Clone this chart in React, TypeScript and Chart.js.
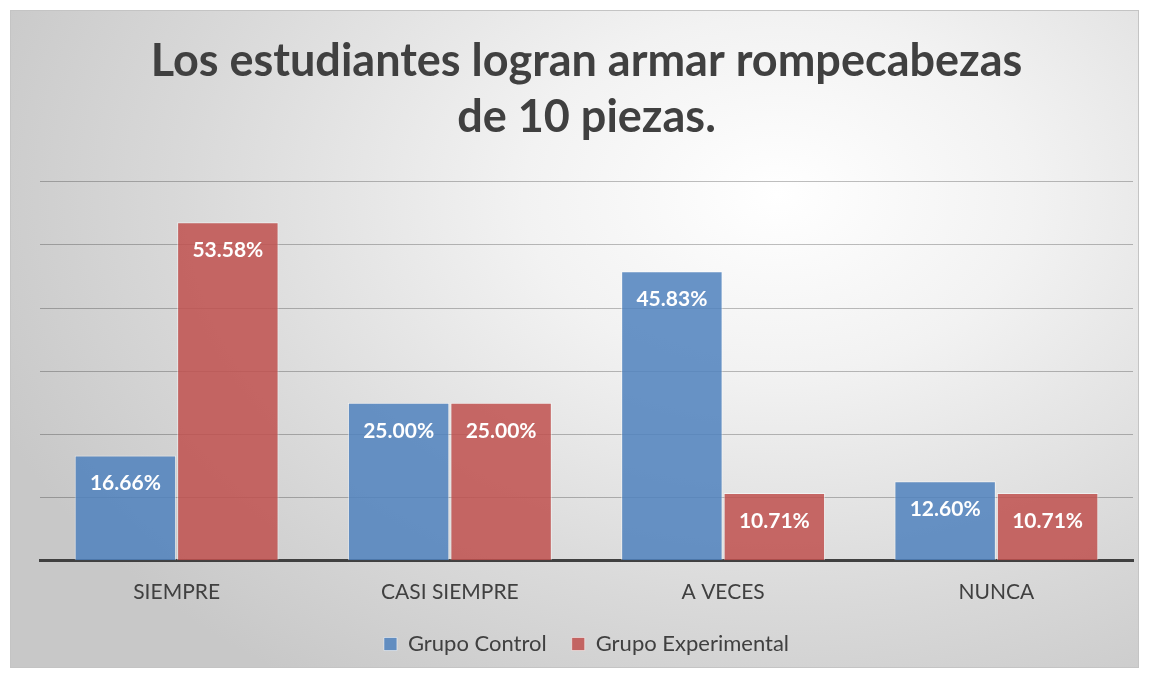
import React, { useEffect, useRef } from "react";
import { Chart, registerables } from "chart.js";

Chart.register(...registerables);

const categories = ["SIEMPRE", "CASI SIEMPRE", "A VECES", "NUNCA"];
const grupoControl = [16.66, 25.0, 45.83, 12.6];
const grupoExperimental = [53.58, 25.0, 10.71, 10.71];
const seriesNames = ["Grupo Control", "Grupo Experimental"];
const titleLines = ["Los estudiantes logran armar rompecabezas", "de 10 piezas."];
const yMax = 60;
const yStep = 10;

const FONT = "Lato, 'Open Sans', sans-serif";

const labelPlugin = {
  id: "barLabels",
  afterDatasetsDraw(chart: any) {
    const ctx = chart.ctx;
    ctx.save();
    ctx.fillStyle = "#ffffff";
    ctx.font = `bold 21px ${FONT}`;
    ctx.textAlign = "center";
    ctx.textBaseline = "middle";
    chart.data.datasets.forEach((ds: any, di: number) => {
      const meta = chart.getDatasetMeta(di);
      meta.data.forEach((el: any, i: number) => {
        const v = ds.data[i] as number;
        ctx.fillText(v.toFixed(2) + "%", el.x, el.y + 28);
      });
    });
    ctx.restore();
  },
};

export default function App() {
  const ref = useRef<HTMLCanvasElement>(null);
  useEffect(() => {
    if (!ref.current) return;
    const chart = new Chart(ref.current, {
      type: "bar",
      data: {
        labels: categories,
        datasets: [
          {
            label: seriesNames[0],
            data: grupoControl,
            backgroundColor: "rgba(79,129,189,0.85)",
            borderColor: "rgba(255,255,255,0.5)",
            borderWidth: 1,
            categoryPercentage: 0.75,
            barPercentage: 0.99,
          },
          {
            label: seriesNames[1],
            data: grupoExperimental,
            backgroundColor: "rgba(192,80,77,0.85)",
            borderColor: "rgba(255,255,255,0.5)",
            borderWidth: 1,
            categoryPercentage: 0.75,
            barPercentage: 0.99,
          },
        ],
      },
      options: {
        responsive: false,
        animation: false,
        layout: { padding: { left: 40, right: 16, top: 34, bottom: 12 } },
        plugins: {
          title: {
            display: true,
            text: titleLines,
            color: "#404040",
            font: { family: FONT, size: 45, weight: "bold", lineHeight: 1.24 },
            padding: { top: 0, bottom: 36 },
          },
          legend: {
            position: "bottom",
            labels: {
              color: "#404040",
              font: { family: FONT, size: 22 },
              boxWidth: 13,
              boxHeight: 13,
              padding: 25,
            },
          },
          tooltip: { enabled: false },
        },
        scales: {
          x: {
            grid: { display: false },
            border: { display: true, color: "#404040", width: 3 },
            ticks: { color: "#404040", font: { family: FONT, size: 21 }, padding: 11 },
            afterFit: (scale: any) => {
              scale.height -= 8;
            },
          },
          y: {
            min: 0,
            max: yMax,
            ticks: { display: false, stepSize: yStep },
            grid: { color: "rgba(0,0,0,0.25)", lineWidth: 1, drawTicks: false },
            border: { display: false },
          },
        },
      },
      plugins: [labelPlugin],
    });
    return () => chart.destroy();
  }, []);
  return (
    <div style={{ position: "absolute", left: 0, top: 0, width: 1149, height: 677, background: "#ffffff" }}>
      <div
        style={{
          position: "absolute",
          left: 10,
          top: 10,
          width: 1127,
          height: 656,
          border: "1px solid #c4c4c4",
          background:
            "radial-gradient(ellipse 75% 90% at 68% 28%, #ffffff 0%, #f2f2f2 30%, #d9d9d9 70%, #c8c8c8 100%)",
        }}
      />
      <canvas ref={ref} width={1149} height={677} style={{ position: "absolute", left: 0, top: 0 }} />
    </div>
  );
}
